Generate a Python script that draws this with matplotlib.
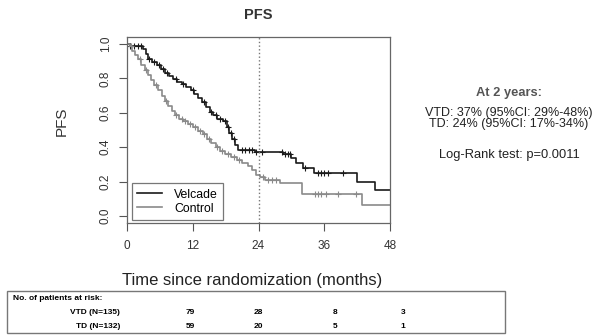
import matplotlib
matplotlib.use("Agg")
import matplotlib.pyplot as plt
from matplotlib.patches import Rectangle
import numpy as np

plt.rcParams['font.family'] = ['Liberation Sans', 'DejaVu Sans']

# Kaplan-Meier step points (time in months, survival after the step)
velcade_t = [0, 0.5, 3.0, 3.4, 3.8, 4.6, 5.4, 6.2, 7.0, 7.6, 8.4, 9.2, 10.0, 10.8,
             11.6, 12.3, 13.0, 13.7, 14.4, 15.1, 15.7, 16.5, 17.6, 18.2, 18.7,
             19.2, 19.7, 20.3, 23.4, 28.5, 29.9, 30.8, 32.2, 34.2, 42.0, 45.2]
velcade_s = [1.0, 0.99, 0.97, 0.94, 0.915, 0.895, 0.875, 0.855, 0.83, 0.815, 0.795,
             0.78, 0.765, 0.75, 0.73, 0.71, 0.685, 0.66, 0.635, 0.605, 0.585, 0.565,
             0.55, 0.515, 0.485, 0.45, 0.415, 0.385, 0.372, 0.36, 0.34, 0.31, 0.28,
             0.25, 0.20, 0.15]
velcade_cens = [0.5, 1.3, 2.0, 2.6, 4.0, 5.0, 5.8, 6.6, 7.3, 9.0, 10.3, 12.0, 14.0,
                15.4, 16.2, 17.0, 17.8, 18.5, 19.0, 19.5, 21.0, 21.6, 22.2, 22.8,
                23.6, 24.6, 28.2, 28.8, 29.4, 29.7, 32.5, 34.9, 35.4, 36.0, 36.6,
                39.4]

control_t = [0, 0.5, 1.0, 1.5, 2.0, 2.6, 3.2, 3.8, 4.3, 5.0, 5.7, 6.3, 6.9, 7.5,
             8.2, 8.8, 9.4, 10.2, 11.1, 12.0, 13.0, 13.8, 14.6, 15.4, 16.2, 16.9,
             17.8, 19.0, 20.0, 21.0, 22.0, 22.8, 23.5, 24.2, 25.2, 28.0, 32.0, 42.9]
control_s = [1.0, 0.985, 0.96, 0.935, 0.91, 0.88, 0.85, 0.82, 0.79, 0.76, 0.73,
             0.70, 0.67, 0.64, 0.61, 0.585, 0.565, 0.55, 0.535, 0.515, 0.495, 0.475,
             0.45, 0.425, 0.40, 0.38, 0.36, 0.345, 0.325, 0.31, 0.29, 0.265, 0.24,
             0.225, 0.21, 0.19, 0.13, 0.065]
control_cens = [0.7, 2.3, 3.5, 5.3, 7.2, 9.0, 10.0, 10.6, 11.5, 12.5, 13.3, 14.0,
                15.0, 16.5, 17.4, 18.5, 19.5, 20.5, 24.8, 25.8, 26.4, 27.2, 34.3,
                34.8, 35.4, 36.4, 38.5, 41.8]

risk_groups = ["VTD (N=135)", "TD (N=132)"]
risk_vtd = [79, 28, 8, 3]
risk_td = [59, 20, 5, 1]

W, H = 596, 336
fig = plt.figure(figsize=(W / 100, H / 100), dpi=100)
ax = fig.add_axes([127 / W, 113 / H, 263 / W, 186 / H])


def km(ax, t, s, cens, color, label):
    t = list(t) + [48]
    s = list(s) + [s[-1]]
    ax.step(t, s, where="post", color=color, lw=1.2, label=label)
    # censor marks sit on the curve at the censoring time
    idx = np.searchsorted(t, cens, side="right") - 1
    ax.plot(cens, np.array(s)[idx], ls="none", marker="+", ms=5, mew=0.8,
            color=color)


km(ax, velcade_t, velcade_s, velcade_cens, "#1a1a1a", "Velcade")
km(ax, control_t, control_s, control_cens, "#8a8a8a", "Control")

ax.axvline(24, color="#777777", ls=":", lw=1)

ax.set_xlim(0, 48)
ax.set_ylim(-0.04, 1.04)
ax.set_xticks([0, 12, 24, 36, 48])
ax.set_yticks([0.0, 0.2, 0.4, 0.6, 0.8, 1.0])
ax.set_yticklabels(["0.0", "0.2", "0.4", "0.6", "0.8", "1.0"], rotation=90,
                   va="center")
ax.tick_params(axis="both", labelsize=8.5, length=6, width=0.8, color="#555555",
               labelcolor="#333333")
ax.tick_params(axis="x", pad=6)
ax.tick_params(axis="y", pad=5)
for sp in ax.spines.values():
    sp.set_color("#666666")
    sp.set_linewidth(0.9)

leg = ax.legend(loc="lower left", bbox_to_anchor=(0.019, 0.016), fontsize=8.8,
                frameon=True, fancybox=False, edgecolor="#555555",
                borderaxespad=0, handlelength=2.0, borderpad=0.45,
                labelspacing=0.15, handletextpad=1.0)
leg.get_frame().set_linewidth(0.9)

fig.text(258 / W, 1 - 15 / H, "PFS", ha="center", va="center", fontsize=10.5,
         fontweight="bold", color="#333333")
fig.text(62 / W, 1 - 121 / H, "PFS", ha="center", va="center", fontsize=11,
         rotation=90, color="#333333")
fig.text(252 / W, 1 - 280 / H, "Time since randomization (months)",
         ha="center", va="center", fontsize=12, color="#222222")

# summary text on the right
fig.text(509 / W, 1 - 93 / H, "At 2 years:", ha="center", va="center",
         fontsize=9.3, fontweight="bold", color="#555555")
fig.text(509 / W, 1 - 113 / H, "VTD: 37% (95%CI: 29%-48%)", ha="center",
         va="center", fontsize=9, color="#222222")
fig.text(509 / W, 1 - 124 / H, "TD: 24% (95%CI: 17%-34%)", ha="center",
         va="center", fontsize=9, color="#222222")
fig.text(509 / W, 1 - 155 / H, "Log-Rank test: p=0.0011", ha="center",
         va="center", fontsize=9.3, color="#222222")

# number-at-risk table
fig.patches.append(Rectangle((7 / W, 3 / H), 498 / W, 42 / H,
                             transform=fig.transFigure, fill=False,
                             edgecolor="#777777", lw=1))
narrow = ['Liberation Sans Narrow', 'Liberation Sans', 'DejaVu Sans']
fig.text(13 / W, 1 - 299 / H, "No. of patients at risk:", ha="left",
         va="center", fontsize=6, fontweight="bold", family=narrow)
row_y = [312.5, 326.5]
col_x = [190, 258, 335, 403]
for name, vals, y in zip(risk_groups, [risk_vtd, risk_td], row_y):
    fig.text(120 / W, 1 - y / H, name, ha="right", va="center", fontsize=6,
             fontweight="bold", family=narrow)
    for v, x in zip(vals, col_x):
        fig.text(x / W, 1 - y / H, str(v), ha="center", va="center",
                 fontsize=6, fontweight="bold", family=narrow)

fig.savefig("out.png", dpi=100)
